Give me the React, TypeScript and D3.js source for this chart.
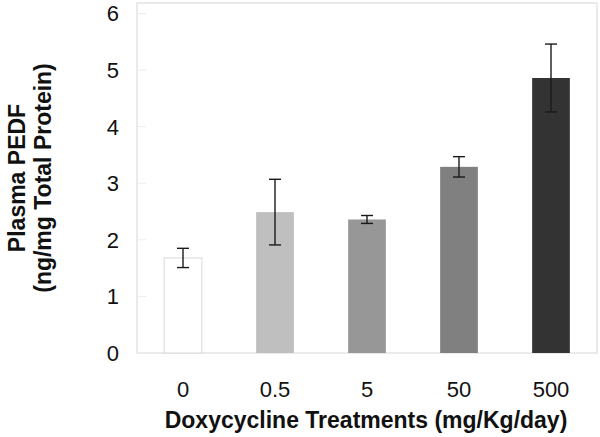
import React from "react";
import * as d3 from "d3";

const categories = ["0", "0.5", "5", "50", "500"];
const means = [1.68, 2.49, 2.36, 3.29, 4.86];
const errors = [0.17, 0.58, 0.07, 0.18, 0.6];
const barColors = ["#ffffff", "#bfbfbf", "#979797", "#808080", "#333333"];
const yTicks = [0, 1, 2, 3, 4, 5, 6];

const W = 600;
const H = 437;
const left = 137;
const right = 597;
const top = 3;
const bottom = 353;

export default function App() {
  const x = d3.scaleBand<string>().domain(categories).range([left, right]).paddingInner(0.59).paddingOuter(0.295);
  const y = d3.scaleLinear().domain([0, 6]).range([bottom, 13.5]);
  const font = "'Liberation Sans', Arial, sans-serif";
  return (
    <svg width={W} height={H} style={{ position: "absolute", left: 0, top: 0 }}>
      <rect x={0} y={0} width={W} height={H} fill="#fff" />
      <rect x={left} y={top} width={right - left} height={bottom - top} fill="none" stroke="#e4e4e4" strokeWidth={1.5} />
      {yTicks.map((t) => (
        <g key={t}>
          <line x1={left} x2={left + 9} y1={y(t)} y2={y(t)} stroke="#ececec" strokeWidth={1} />
          <text x={119} y={y(t)} dy="0.36em" textAnchor="end" fontFamily={font} fontSize={22} fill="#111">
            {t}
          </text>
        </g>
      ))}
      {categories.map((c, i) => {
        const bx = x(c)!;
        const bw = x.bandwidth();
        const cx = bx + bw / 2;
        return (
          <g key={c}>
            <rect
              x={bx}
              y={y(means[i])}
              width={bw}
              height={y(0) - y(means[i])}
              fill={barColors[i]}
              stroke={i === 0 ? "#d8d8d8" : "none"}
              strokeWidth={1}
            />
            <line x1={cx} x2={cx} y1={y(means[i] + errors[i])} y2={y(means[i] - errors[i])} stroke="#1a1a1a" strokeWidth={1.4} />
            <line x1={cx - 6} x2={cx + 6} y1={y(means[i] + errors[i])} y2={y(means[i] + errors[i])} stroke="#1a1a1a" strokeWidth={1.4} />
            <line x1={cx - 6} x2={cx + 6} y1={y(means[i] - errors[i])} y2={y(means[i] - errors[i])} stroke="#1a1a1a" strokeWidth={1.4} />
            <text x={cx} y={397} textAnchor="middle" fontFamily={font} fontSize={22} fill="#111">
              {c}
            </text>
          </g>
        );
      })}
      <text x={(left + right) / 2 - 1} y={428} textAnchor="middle" fontFamily={font} fontSize={23} fontWeight="bold" fill="#111">
        Doxycycline Treatments (mg/Kg/day)
      </text>
      <g transform={`translate(0, ${(top + bottom) / 2}) rotate(-90)`}>
        <text x={0} y={25} textAnchor="middle" fontFamily={font} fontSize={23} fontWeight="bold" fill="#111">
          Plasma PEDF
        </text>
        <text x={0} y={51} textAnchor="middle" fontFamily={font} fontSize={23} fontWeight="bold" fill="#111">
          (ng/mg Total Protein)
        </text>
      </g>
    </svg>
  );
}
